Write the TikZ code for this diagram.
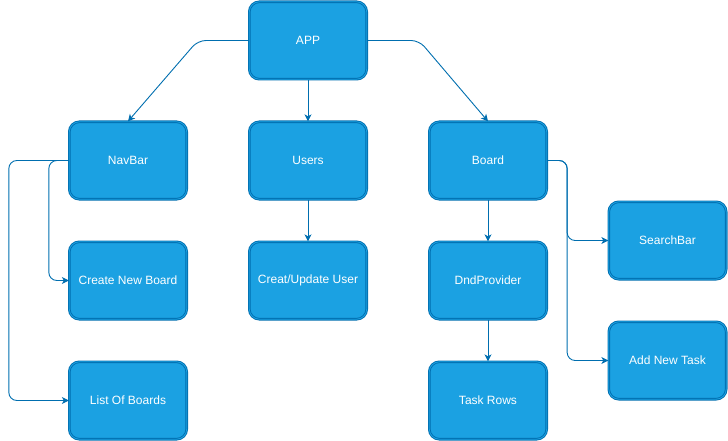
\documentclass[tikz,border=0pt]{standalone}
\usepackage{fontspec}
\setmainfont{Liberation Sans}
\usetikzlibrary{arrows.meta}
\definecolor{boxfill}{HTML}{1BA1E2}
\definecolor{boxline}{HTML}{006EAF}
\begin{document}
\begin{tikzpicture}[x=1pt,y=-1pt,
  box/.style={draw=boxline, line width=0.9pt, double=boxfill, double distance=0.8pt,
    fill=boxfill, rounded corners=10pt, minimum width=117.4pt, minimum height=77.4pt,
    inner sep=0pt, text=white, font=\fontsize{12pt}{14pt}\selectfont},
  conn/.style={draw=boxline, line width=0.9pt, rounded corners=8pt,
    -{Stealth[length=7pt,width=7pt,inset=2pt]}}]
\useasboundingbox (0,0) rectangle (728,441);
\node[box] (app) at (308,40.5) {APP};
\node[box] (navbar) at (128,160.5) {NavBar};
\node[box] (users) at (308,160.5) {Users};
\node[box] (board) at (488,160.5) {Board};
\node[box] (cnb) at (128,280.5) {Create New Board};
\node[box] (cuu) at (308,280.5) {Creat/Update User};
\node[box] (dnd) at (488,280.5) {DndProvider};
\node[box] (lob) at (128,400.5) {List Of Boards};
\node[box] (rows) at (488,400.5) {Task Rows};
\node[box] (search) at (667.5,240.5) {SearchBar};
\node[box] (addtask) at (667.5,360.5) {Add New Task};
\draw[conn] (app.west) -- ([xshift=-51pt]app.west) -- (navbar.north);
\draw[conn] (app.east) -- ([xshift=52pt]app.east) -- (board.north);
\draw[conn] (app.south) -- (users.north);
\draw[conn] (users.south) -- (cuu.north);
\draw[conn] (board.south) -- (dnd.north);
\draw[conn] (dnd.south) -- (rows.north);
\draw[conn] (navbar.west) -- ([xshift=-20pt]navbar.west) |- (cnb.west);
\draw[conn] (navbar.west) -- ([xshift=-60pt]navbar.west) |- (lob.west);
\draw[conn] (board.east) -- ([xshift=20pt]board.east) |- (search.west);
\draw[conn] (board.east) -- ([xshift=20pt]board.east) |- (addtask.west);
\end{tikzpicture}
\end{document}
